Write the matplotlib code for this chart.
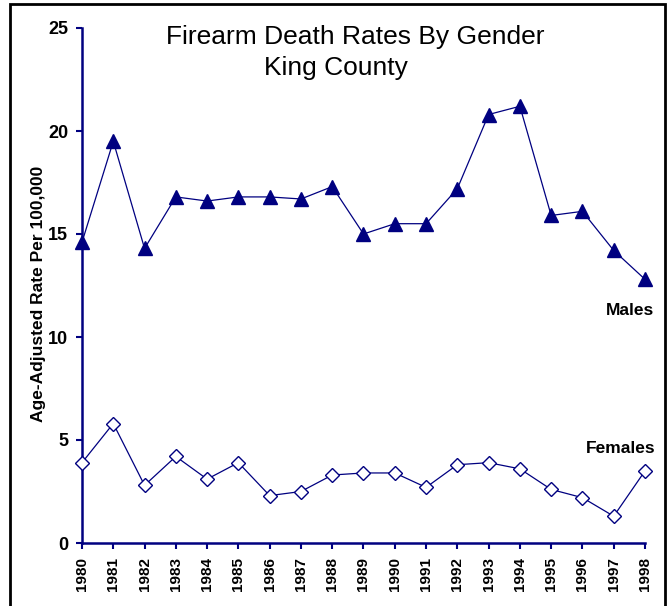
import matplotlib.pyplot as plt
from matplotlib.patches import Rectangle

plt.rcParams['font.family'] = ['Liberation Sans', 'DejaVu Sans']

years = list(range(1980, 1999))
males = [14.6, 19.5, 14.3, 16.8, 16.6, 16.8, 16.8, 16.7, 17.3, 15.0,
         15.5, 15.5, 17.2, 20.8, 21.2, 15.9, 16.1, 14.2, 12.8]
females = [3.9, 5.8, 2.8, 4.2, 3.1, 3.9, 2.3, 2.5, 3.3, 3.4,
           3.4, 2.7, 3.8, 3.9, 3.6, 2.6, 2.2, 1.3, 3.5]
yticks = [0, 5, 10, 15, 20, 25]

navy = "#000080"

fig = plt.figure(figsize=(6.68, 6.06), dpi=100)
ax = fig.add_axes([82/668, 1 - 543/606, (645 - 82)/668, (543 - 28)/606])

ax.plot(years, males, color=navy, lw=0.9, marker="^", ms=10,
        mfc=navy, mec=navy, clip_on=False, zorder=3)
ax.plot(years, females, color=navy, lw=0.9, marker="D", ms=7,
        mfc="white", mec=navy, mew=1.0, clip_on=False, zorder=3)

ax.set_xlim(1980, 1998)
ax.set_ylim(0, 25)
ax.set_xticks(years)
ax.set_xticklabels([str(y) for y in years], rotation=90,
                   fontsize=11, fontweight="bold")
ax.set_yticks(yticks)
ax.set_yticklabels([str(v) for v in yticks], fontsize=13, fontweight="bold")

for s in ("top", "right"):
    ax.spines[s].set_visible(False)
for s in ("left", "bottom"):
    ax.spines[s].set_color(navy)
    ax.spines[s].set_linewidth(1.8)
ax.tick_params(axis="both", direction="out", length=4, width=1.5, color=navy)
ax.tick_params(axis="y", pad=6)
ax.tick_params(axis="x", pad=6)

ax.set_ylabel("Age-Adjusted Rate Per 100,000", fontsize=12.5,
              fontweight="bold")
ax.yaxis.set_label_coords(-0.064, 0.483)

fig.text(355/668, 1 - 44/606, "Firearm Death Rates By Gender",
         ha="center", va="baseline", fontsize=19)
fig.text(336/668, 1 - 75/606, "King County",
         ha="center", va="baseline", fontsize=19)

ax.text(1998.29, 11.3, "Males", ha="right", va="center",
        fontsize=12.5, fontweight="bold")
ax.text(1998.33, 4.6, "Females", ha="right", va="center",
        fontsize=12.5, fontweight="bold")

# frame around the whole picture
fig.patches.append(Rectangle((10/668, -0.01), (665 - 10)/668, 1.01 - 4/606,
                             transform=fig.transFigure, fill=False,
                             ec="black", lw=2.0))

fig.savefig("out.png", dpi=100)
